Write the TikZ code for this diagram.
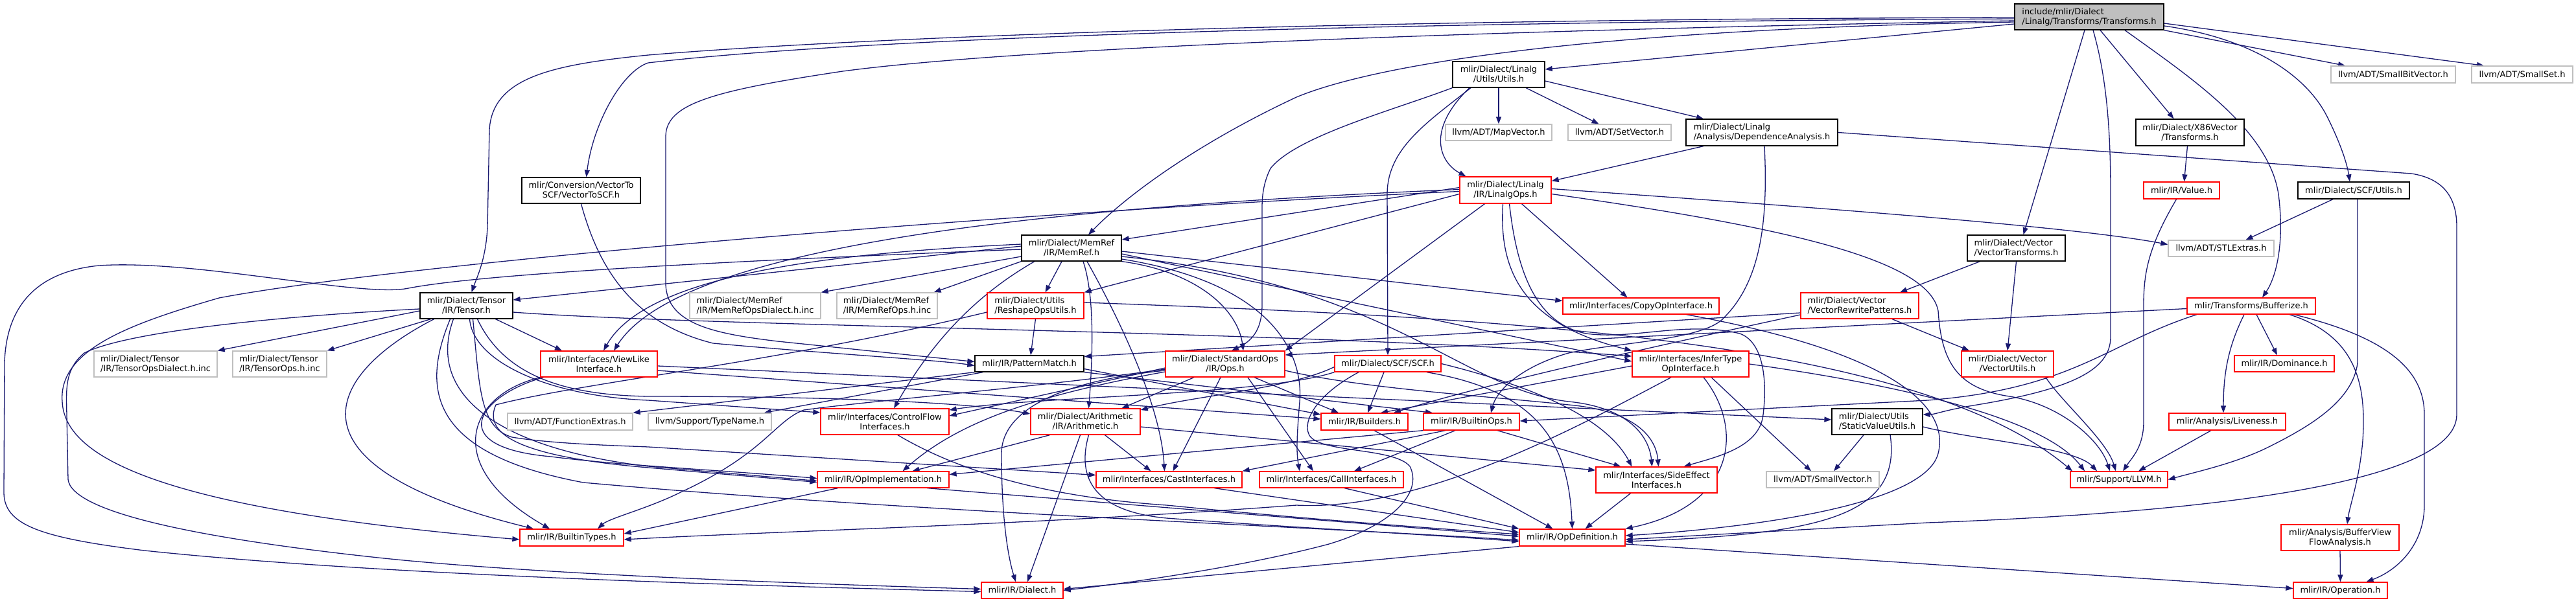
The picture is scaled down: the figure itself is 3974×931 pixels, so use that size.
\documentclass[tikz,border=0pt]{standalone}
\usepackage{fontspec}
\setmainfont{DejaVu Sans}
\usetikzlibrary{arrows.meta}
\definecolor{edgec}{HTML}{191970}
\definecolor{gbord}{HTML}{BFBFBF}
\definecolor{rbord}{HTML}{FF0000}
\newcommand{\nodefont}{\fontsize{13}{15}\selectfont}
\pgfdeclarelayer{bgl}
\pgfdeclarelayer{edl}
\pgfsetlayers{bgl,edl,main}
\begin{document}
\begin{tikzpicture}[x=1pt,y=-1pt,
  box/.style={rectangle,inner sep=0pt,line width=1.3pt,fill=white,font=\nodefont,text=black},
  bn/.style={box,draw=black},
  rn/.style={box,draw=rbord},
  gn/.style={box,draw=gbord},
  sz/.style 2 args={minimum width=#1pt,minimum height=#2pt},
  conn/.style={draw=edgec,line width=1.3pt,-{Triangle[length=11pt,width=8pt]}}]
\useasboundingbox (0,0) rectangle (3974,931);
\begin{pgfonlayer}{bgl}
\fill[white] (0,0) rectangle (3974,931);
\end{pgfonlayer}
% ---------------- nodes
\node[bn,fill=gbord,align=left,sz={230}{40}] (main) at (3223,26) {include/mlir/Dialect\\/Linalg/Transforms/Transforms.h};
\node[bn,align=center,sz={142}{40}] (lu) at (2312,115) {mlir/Dialect/Linalg\\/Utils/Utils.h};
\node[gn,sz={164}{25}] (mv) at (2312,204.5) {llvm/ADT/MapVector.h};
\node[gn,sz={159}{25}] (sv) at (2498.5,204.5) {llvm/ADT/SetVector.h};
\node[bn,align=left,sz={234}{41}] (da) at (2718,204.5) {mlir/Dialect/Linalg\\/Analysis/DependenceAnalysis.h};
\node[rn,align=center,sz={141}{41}] (lo) at (2322.5,293.5) {mlir/Dialect/Linalg\\/IR/LinalgOps.h};
\node[gn,sz={192}{26}] (sbv) at (3692,115) {llvm/ADT/SmallBitVector.h};
\node[gn,sz={156}{26}] (ss) at (3891,115) {llvm/ADT/SmallSet.h};
\node[bn,align=center,sz={167}{41}] (x86) at (3378.5,204.5) {mlir/Dialect/X86Vector\\/Transforms.h};
\node[rn,sz={117}{26}] (val) at (3365.5,294) {mlir/IR/Value.h};
\node[bn,sz={172}{26}] (scfu) at (3631,294) {mlir/Dialect/SCF/Utils.h};
\node[bn,align=center,sz={183}{40}] (v2s) at (896.5,294) {mlir/Conversion/VectorTo\\SCF/VectorToSCF.h};
\node[bn,align=center,sz={154}{40}] (mr) at (1653,383) {mlir/Dialect/MemRef\\/IR/MemRef.h};
\node[bn,align=left,sz={151}{40}] (vt) at (3110.5,383) {mlir/Dialect/Vector\\/VectorTransforms.h};
\node[gn,sz={163}{25}] (stl) at (3426.5,383.5) {llvm/ADT/STLExtras.h};
\node[bn,align=center,sz={143}{40}] (te) at (719.5,472) {mlir/Dialect/Tensor\\/IR/Tensor.h};
\node[gn,align=left,sz={202}{40}] (mrd) at (1165,472) {mlir/Dialect/MemRef\\/IR/MemRefOpsDialect.h.inc};
\node[gn,align=left,sz={155}{40}] (mro) at (1368.5,472) {mlir/Dialect/MemRef\\/IR/MemRefOps.h.inc};
\node[rn,align=left,sz={149}{40}] (rou) at (1597.5,472) {mlir/Dialect/Utils\\/ReshapeOpsUtils.h};
\node[rn,sz={241}{25}] (co) at (2531.5,472.5) {mlir/Interfaces/CopyOpInterface.h};
\node[rn,align=left,sz={182}{40}] (vrp) at (2869,472) {mlir/Dialect/Vector\\/VectorRewritePatterns.h};
\node[rn,sz={198}{25}] (buf) at (3473,472.5) {mlir/Transforms/Bufferize.h};
\node[gn,align=left,sz={190}{40}] (tod) at (240,562) {mlir/Dialect/Tensor\\/IR/TensorOpsDialect.h.inc};
\node[gn,align=left,sz={145}{40}] (tops) at (431.5,562) {mlir/Dialect/Tensor\\/IR/TensorOps.h.inc};
\node[rn,align=center,sz={180}{40}] (vl) at (924,562) {mlir/Interfaces/ViewLike\\Interface.h};
\node[bn,sz={168}{25}] (pm) at (1588,561.5) {mlir/IR/PatternMatch.h};
\node[rn,align=center,sz={184}{40}] (so) at (1890,562) {mlir/Dialect/StandardOps\\/IR/Ops.h};
\node[rn,sz={164}{25}] (scf) at (2141,561.5) {mlir/Dialect/SCF/SCF.h};
\node[rn,align=center,sz={180}{40}] (it) at (2608,562) {mlir/Interfaces/InferType\\OpInterface.h};
\node[rn,align=center,sz={142}{40}] (vu) at (3097,562) {mlir/Dialect/Vector\\/VectorUtils.h};
\node[rn,sz={154}{25}] (dom) at (3524,561.5) {mlir/IR/Dominance.h};
\node[gn,sz={193}{26}] (fe) at (879.5,651) {llvm/ADT/FunctionExtras.h};
\node[gn,sz={190}{26}] (tn) at (1095,651) {llvm/Support/TypeName.h};
\node[rn,align=center,sz={198}{40}] (cf) at (1365,651) {mlir/Interfaces/ControlFlow\\Interfaces.h};
\node[rn,align=center,sz={169}{40}] (ar) at (1674.5,651) {mlir/Dialect/Arithmetic\\/IR/Arithmetic.h};
\node[rn,sz={134}{26}] (bld) at (2105,651) {mlir/IR/Builders.h};
\node[rn,sz={148}{26}] (bop) at (2270,651) {mlir/IR/BuiltinOps.h};
\node[bn,align=left,sz={140}{40}] (svu) at (2896,651) {mlir/Dialect/Utils\\/StaticValueUtils.h};
\node[rn,sz={180}{26}] (liv) at (3436,651) {mlir/Analysis/Liveness.h};
\node[rn,sz={203}{25}] (oi) at (1362.5,740.5) {mlir/IR/OpImplementation.h};
\node[rn,sz={225}{25}] (cast) at (1803.5,740.5) {mlir/Interfaces/CastInterfaces.h};
\node[rn,sz={222}{25}] (call) at (2054,740.5) {mlir/Interfaces/CallInterfaces.h};
\node[rn,align=center,sz={187}{40}] (se) at (2555.5,741) {mlir/Interfaces/SideEffect\\Interfaces.h};
\node[gn,sz={174}{25}] (svec) at (2812,740.5) {llvm/ADT/SmallVector.h};
\node[rn,sz={150}{25}] (ll) at (3269,740.5) {mlir/Support/LLVM.h};
\node[rn,sz={160}{26}] (bt) at (882,830) {mlir/IR/BuiltinTypes.h};
\node[rn,sz={163}{26}] (od) at (2425.5,830) {mlir/IR/OpDefinition.h};
\node[rn,align=center,sz={182}{40}] (bvfa) at (3610,830) {mlir/Analysis/BufferView\\FlowAnalysis.h};
\node[rn,sz={126}{25}] (dia) at (1577,911.5) {mlir/IR/Dialect.h};
\node[rn,sz={145}{25}] (op) at (3610.5,911.5) {mlir/IR/Operation.h};
% ---------------- edges
\begin{pgfonlayer}{edl}
% main
\draw[conn] ([yshift=-11]main.west) -- ([yshift=8]lu.east);
\draw[conn] ([yshift=-8]main.west) .. controls (2450,45) and (2120,100) .. (2000,150) .. controls (1850,220) and (1740,300) .. ([xshift=26]mr.north);
\draw[conn] ([yshift=-1]main.west) .. controls (2000,30) and (1300,60) .. (1000,85) .. controls (850,100) and (760,120) .. (755,200) -- (752,350) .. controls (750,400) and (735,430) .. ([xshift=8]te.north);
\draw[conn] ([yshift=-3]main.west) .. controls (2000,35) and (1300,62) .. (1000,97) .. controls (960,110) and (915,190) .. ([xshift=8]v2s.north);
\draw[conn] ([yshift=-6]main.west) .. controls (2400,45) and (1600,70) .. (1300,110) .. controls (1100,140) and (1028,160) .. (1027,210) -- (1027,440) .. controls (1030,500) and (1100,515) .. (1200,527) -- ([yshift=3]pm.west);
\draw[conn] ([xshift=-7]main.south) -- ([xshift=11]vt.north);
\draw[conn] ([xshift=17]main.south) -- ([xshift=-25]x86.north);
\draw[conn] ([xshift=6]main.south) .. controls (3250,120) and (3256,200) .. (3256,300) -- (3256,520) .. controls (3256,570) and (3200,600) .. (3050,625) .. controls (3000,633) and (2985,640) .. ([yshift=11]svu.east);
\draw[conn] ([xshift=55]main.south) .. controls (3380,120) and (3500,200) .. (3515,300) .. controls (3525,380) and (3510,430) .. ([xshift=17]buf.north);
\draw[conn] ([yshift=-14]main.east) .. controls (3480,60) and (3560,120) .. (3590,180) .. controls (3615,230) and (3622,260) .. ([xshift=-6]scfu.north);
\draw[conn] (main.south east) -- ([xshift=-74]sbv.north);
\draw[conn] ([yshift=-10]main.east) -- ([xshift=-59]ss.north);
% linalg utils
\draw[conn] ([xshift=-43]lu.south) .. controls (2200,190) and (2140,230) .. (2140,300) -- (scf.north);
\draw[conn] (lu.south west) .. controls (2150,170) and (2000,210) .. (1960,260) .. controls (1950,280) and (1947,300) .. (1947,320) -- (1947,470) .. controls (1947,505) and (1935,525) .. ([xshift=10]so.north);
\draw[conn] ([xshift=-45]lu.south) .. controls (2200,200) and (2220,250) .. ([xshift=-61]lo.north);
\draw[conn] (lu.south) -- (mv.north);
\draw[conn] ([xshift=42]lu.south) -- ([xshift=-32]sv.north);
\draw[conn] ([yshift=-10]lu.east) -- ([xshift=-90]da.north);
% dependence analysis
\draw[conn] ([xshift=-90]da.south) -- ([yshift=14]lo.east);
\draw[conn] (da.east) -- (3720,268) .. controls (3765,275) and (3790,300) .. (3790,350) -- (3790,640) .. controls (3790,760) and (3300,795) .. (2974,807) -- ([yshift=-3]od.east);
\draw[conn] ([xshift=4]da.south) .. controls (2727,330) and (2720,430) .. (2660,490) .. controls (2630,525) and (2500,528) .. (2420,545) .. controls (2350,565) and (2310,600) .. ([xshift=30]bop.north);
% linalg ops
\draw[conn] ([yshift=4]lo.west) -- ([yshift=13]mr.east);
\draw[conn] ([yshift=1]lo.west) .. controls (1600,320) and (1050,380) .. ([xshift=23]vl.north);
\draw[conn] ([yshift=-2]lo.west) .. controls (1500,330) and (600,410) .. (338,460) .. controls (200,500) and (90,540) .. (96,620) .. controls (100,720) and (300,790) .. ([yshift=-3]bt.west);
\draw[conn] ([yshift=-6]lo.west) -- (rou.north east);
\draw[conn] ([xshift=-32]lo.south) -- (so.north east);
\draw[conn] ([xshift=-4]lo.south) .. controls (2312,420) and (2350,500) .. (it.north west);
\draw[conn] ([xshift=25]lo.south) -- ([xshift=-21]co.north);
\draw[conn] ([xshift=6]lo.south) .. controls (2340,420) and (2370,500) .. (2447,515) .. controls (2520,525) and (2600,495) .. (2684,515) .. controls (2725,530) and (2725,600) .. (2720,640) .. controls (2715,690) and (2650,705) .. ([xshift=42]se.north);
\draw[conn] ([yshift=2]lo.east) .. controls (2800,320) and (3200,350) .. ([yshift=6]stl.west);
\draw[conn] ([yshift=-6]lo.east) .. controls (2750,350) and (2975,400) .. (2990,480) .. controls (2995,560) and (3020,600) .. (3100,612) .. controls (3180,625) and (3240,680) .. ([xshift=-14]ll.north);
% memref
\draw[conn] ([yshift=3]mr.west) -- ([yshift=9]te.east);
\draw[conn] ([yshift=-2]mr.west) .. controls (1200,400) and (760,420) .. (630,445) .. controls (560,460) and (300,400) .. (153,410) .. controls (70,418) and (10,460) .. (7,560) -- (6,760) .. controls (6,810) and (60,830) .. (223,850) .. controls (600,890) and (1200,905) .. ([yshift=-2]dia.west);
\draw[conn] ([yshift=-13]mr.west) -- (mrd.north east);
\draw[conn] (mr.south west) -- ([xshift=-6]mro.north east);
\draw[conn] ([xshift=-15]mr.south) -- ([xshift=15]rou.north);
\draw[conn] ([yshift=6]mr.west) .. controls (1300,390) and (1000,420) .. ([xshift=7]vl.north);
\draw[conn] ([xshift=-57]mr.south) .. controls (1480,470) and (1420,560) .. ([xshift=14]cf.north);
\draw[conn] ([xshift=18]mr.south) .. controls (1690,460) and (1685,560) .. ([xshift=5]ar.north);
\draw[conn] ([xshift=24]mr.south) .. controls (1720,480) and (1790,620) .. ([xshift=-7]cast.north);
\draw[conn] ([yshift=-17]mr.east) .. controls (1980,440) and (2010,560) .. (2005,620) .. controls (2000,680) and (2000,700) .. ([xshift=-49]call.north);
\draw[conn] ([yshift=-5]mr.east) -- ([yshift=8]co.west);
\draw[conn] ([yshift=-9]mr.east) -- ([yshift=4]it.west);
\draw[conn] ([yshift=-13]mr.east) .. controls (2150,440) and (2250,600) .. (2420,620) .. controls (2520,630) and (2545,680) .. ([xshift=-7]se.north);
\draw[conn] (mr.south east) .. controls (1850,420) and (1910,480) .. ([xshift=28]so.north);
% tensor
\draw[conn] ([yshift=-8]te.west) -- (tod.north east);
\draw[conn] ([xshift=-55]te.south) -- (tops.north east);
\draw[conn] ([xshift=-50]te.south) .. controls (500,580) and (430,720) .. ([xshift=-59]bt.north);
\draw[conn] ([xshift=45]te.south) -- ([xshift=-57]vl.north);
\draw[conn] ([xshift=-25]te.south) .. controls (650,600) and (660,700) .. (900,745) .. controls (1400,790) and (2000,812) .. ([yshift=-4]od.west);
\draw[conn] ([xshift=-20]te.south) .. controls (660,600) and (750,690) .. (1000,720) -- ([yshift=-2]oi.west);
\draw[conn] ([xshift=5]te.south) .. controls (730,560) and (850,612) .. (1000,618) -- ([yshift=14]cf.west);
\draw[conn] ([xshift=17]te.south) .. controls (780,585) and (880,610) .. (1000,612) .. controls (1300,612) and (1500,622) .. ([yshift=12]ar.west);
\draw[conn] ([xshift=10]te.south) .. controls (740,600) and (740,660) .. (790,675) .. controls (850,685) and (950,688) .. (1000,690) -- ([yshift=7]cast.west);
\draw[conn] ([yshift=-10]te.east) .. controls (1100,505) and (2000,510) .. ([yshift=12]it.west);
\draw[conn] ([yshift=-5]te.west) .. controls (450,487) and (200,510) .. (130,545) .. controls (100,570) and (102,600) .. (103,640) -- (105,740) .. controls (110,790) and (300,830) .. (574,860) .. controls (800,885) and (1200,900) .. ([yshift=2]dia.west);
% vector to scf
\draw[conn] (v2s.south) .. controls (925,420) and (980,500) .. (1100,530) .. controls (1300,548) and (1450,556) .. ([yshift=-3]pm.west);
% vector transforms, x86, value, scf utils
\draw[conn] ([xshift=-56]vt.south) -- ([xshift=62]vrp.north);
\draw[conn] (vt.south) -- (vu.north);
\draw[conn] ([xshift=-4]x86.south) -- ([xshift=4]val.north);
\draw[conn] ([xshift=-8]val.south) .. controls (3315,380) and (3307,420) .. (3307,470) -- (3307,650) .. controls (3307,690) and (3290,705) .. ([xshift=6]ll.north);
\draw[conn] ([xshift=-32]scfu.south) -- ([xshift=38]stl.north);
\draw[conn] ([xshift=6]scfu.south) -- (3637,560) .. controls (3630,620) and (3560,660) .. (3500,690) .. controls (3450,715) and (3390,728) .. (ll.east);
% reshape ops utils
\draw[conn] (rou.south) -- ([xshift=2]pm.north);
\draw[conn] ([yshift=-10]rou.west) .. controls (1200,560) and (900,590) .. (765,625) .. controls (745,670) and (800,705) .. (1000,722) -- ([yshift=-4]oi.west);
\draw[conn] ([yshift=5]rou.east) .. controls (2300,490) and (2950,520) .. ([xshift=-72]ll.north);
% vector rewrite patterns
\draw[conn] ([yshift=-11]vrp.west) -- ([yshift=11]pm.east);
\draw[conn] ([yshift=-14]vrp.west) .. controls (2620,520) and (2300,590) .. ([xshift=45]bld.north);
\draw[conn] ([xshift=50]vrp.south) -- ([xshift=-59]vu.north);
% bufferize
\draw[conn] ([yshift=-4]buf.west) -- ([yshift=14]so.east);
\draw[conn] ([xshift=-84]buf.south) .. controls (3250,530) and (3200,600) .. (2974,618) -- ([yshift=1]bop.east);
\draw[conn] ([xshift=-11]buf.south) .. controls (3440,530) and (3430,570) .. ([xshift=-6]liv.north);
\draw[conn] ([xshift=8]buf.south) -- ([xshift=-11]dom.north);
\draw[conn] ([xshift=59]buf.south) .. controls (3640,520) and (3650,600) .. (3645,680) .. controls (3640,740) and (3625,780) .. ([xshift=11]bvfa.north);
\draw[conn] ([xshift=66]buf.south) .. controls (3680,520) and (3740,570) .. (3740,640) -- (3740,780) .. controls (3740,840) and (3700,880) .. ([xshift=40]op.north);
% view like
\draw[conn] (vl.south west) .. controls (720,610) and (680,720) .. ([xshift=-34]bt.north);
\draw[conn] ([xshift=5]vl.south west) .. controls (740,610) and (680,690) .. (850,705) .. controls (950,718) and (1100,725) .. ([yshift=2]oi.west);
\draw[conn] ([yshift=-3]vl.east) -- ([yshift=3]svu.west);
\draw[conn] ([yshift=-10]vl.east) -- ([yshift=4]bld.west);
% pattern match
\draw[conn] ([yshift=-8]pm.east) -- ([yshift=11]bld.west);
\draw[conn] (pm.south east) -- ([xshift=-60]bop.north);
\draw[conn] (pm.south west) -- (fe.north east);
\draw[conn] ([xshift=13]pm.south west) -- ([xshift=-12]tn.north east);
% standard ops
\draw[conn] ([xshift=-48]so.south) -- ([xshift=56]ar.north);
\draw[conn] ([xshift=-7]so.south) -- ([xshift=6]cast.north);
\draw[conn] ([xshift=35]so.south) -- ([xshift=-28]call.north);
\draw[conn] ([xshift=45]so.south) -- ([xshift=-40]bld.north);
\draw[conn] ([yshift=-6]so.west) -- ([yshift=9]cf.east);
\draw[conn] ([yshift=-8]so.west) .. controls (1600,598) and (1350,618) .. (1240,633) .. controls (1195,650) and (1180,700) .. (1050,760) .. controls (1000,785) and (940,800) .. ([xshift=40]bt.north);
\draw[conn] ([yshift=-10]so.west) .. controls (1620,590) and (1545,640) .. (1545,700) .. controls (1545,800) and (1555,860) .. ([xshift=-10]dia.north);
\draw[conn] ([yshift=-12]so.west) .. controls (1600,610) and (1480,650) .. ([xshift=30]oi.north);
\draw[conn] ([yshift=-10]so.east) .. controls (2100,600) and (2300,612) .. (2420,625) .. controls (2530,635) and (2555,680) .. ([xshift=3]se.north);
% scf
\draw[conn] ([xshift=-6]scf.south) -- ([xshift=5]bld.north);
\draw[conn] (scf.south west) .. controls (1950,610) and (1600,612) .. ([yshift=18]cf.east);
\draw[conn] ([yshift=-5]scf.west) .. controls (1990,600) and (1850,610) .. ([yshift=18]ar.east);
\draw[conn] (scf.east) .. controls (2380,600) and (2480,650) .. ([xshift=-38]se.north);
\draw[conn] ([xshift=60]scf.south) .. controls (2380,605) and (2420,690) .. (od.north);
\draw[conn] ([xshift=-45]scf.south) .. controls (2030,610) and (2010,650) .. (2019,670) .. controls (2030,700) and (2150,690) .. (2175,720) .. controls (2195,760) and (2150,810) .. (2050,840) .. controls (1900,880) and (1700,905) .. (dia.east);
% infer type
\draw[conn] ([xshift=-30]it.south) .. controls (2450,650) and (2200,790) .. (2000,780) .. controls (1600,810) and (1200,820) .. ([yshift=-3]bt.east);
\draw[conn] ([xshift=20]it.south) .. controls (2690,660) and (2680,780) .. (od.north east);
\draw[conn] ([xshift=32]it.south) -- ([xshift=-18]svec.north);
\draw[conn] (it.east) .. controls (2900,590) and (3150,640) .. ([xshift=-53]ll.north);
\draw[conn] ([yshift=-3]it.west) -- ([xshift=25]bld.north);
% vector utils, control flow, arithmetic
\draw[conn] ([xshift=59]vu.south) .. controls (3180,620) and (3250,680) .. ([xshift=-5]ll.north);
\draw[conn] ([xshift=20]cf.south) .. controls (1500,740) and (1650,770) .. (1800,780) .. controls (2000,800) and (2200,815) .. ([yshift=5]od.west);
\draw[conn] ([xshift=-55]ar.south) -- ([xshift=45]oi.north);
\draw[conn] ([xshift=30]ar.south) -- ([xshift=-28]cast.north);
\draw[conn] ([xshift=-8]ar.south) -- ([xshift=8]dia.north);
\draw[conn] ([xshift=5]ar.south) .. controls (1660,740) and (1690,790) .. (1800,800) .. controls (2000,815) and (2200,825) .. ([yshift=-6]od.west);
\draw[conn] ([yshift=-8]ar.east) -- ([yshift=15]se.west);
% builders, builtin ops
\draw[conn] ([xshift=15]bld.south) -- ([xshift=-30]od.north);
\draw[conn] (bop.south west) -- ([yshift=8]oi.east);
\draw[conn] ([xshift=-40]bop.south) -- (cast.north east);
\draw[conn] ([xshift=-25]bop.south) -- ([xshift=35]call.north);
\draw[conn] ([xshift=40]bop.south) -- ([xshift=-55]se.north);
% static value utils
\draw[conn] ([xshift=-21]svu.south) -- ([xshift=17]svec.north);
\draw[conn] ([xshift=20]svu.south) .. controls (2935,800) and (2800,825) .. ([yshift=-6]od.east);
\draw[conn] ([yshift=-8]svu.east) .. controls (3050,680) and (3200,690) .. ([xshift=-34]ll.north);
% remaining
\draw[conn] ([xshift=-25]liv.south) -- ([xshift=30]ll.north);
\draw[conn] ([xshift=-70]oi.south) -- ([yshift=6]bt.east);
\draw[conn] ([xshift=68]oi.south) -- ([yshift=2]od.west);
\draw[conn] ([xshift=70]cast.south) -- ([yshift=8]od.west);
\draw[conn] ([xshift=20]call.south) -- (od.north west);
\draw[conn] ([xshift=-40]se.south) -- ([xshift=20]od.north);
\draw[conn] ([xshift=70]co.south) .. controls (2900,540) and (3010,620) .. (2990,700) .. controls (2970,780) and (2700,815) .. ([yshift=3]od.east);
\draw[conn] (od.south west) -- ([yshift=2]dia.east);
\draw[conn] ([yshift=-10]od.east) -- ([yshift=3]op.west);
\draw[conn] (bvfa.south) -- (op.north);
\end{pgfonlayer}
\end{tikzpicture}
\end{document}
